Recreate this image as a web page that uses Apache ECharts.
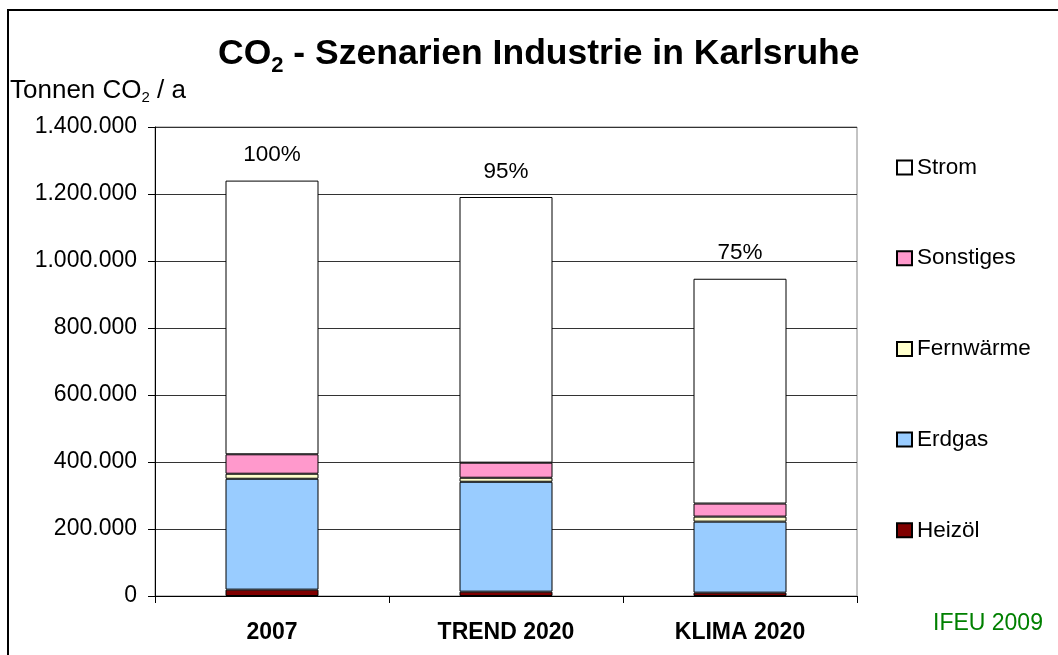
<!DOCTYPE html>
<html>
<head>
<meta charset="utf-8">
<script src="https://cdn.jsdelivr.net/npm/echarts@6/dist/echarts.min.js"></script>
<style>
  html, body { margin: 0; padding: 0; background: #fff; }
  #chart { width: 1058px; height: 655px; }
</style>
</head>
<body>
<div id="chart"></div>
<script>
// categories and stacked values (t CO2 / a), bottom to top
var categories = ['2007', 'TREND 2020', 'KLIMA 2020']
var heizoel = [19000, 13000, 10000]
var erdgas = [331000, 328000, 212000]
var fernwaerme = [15000, 12000, 15000]
var sonstiges = [58000, 45000, 39000]
var strom = [817000, 793000, 671000]
var shares = ['100%', '95%', '75%']
var legendOrder = ['Strom', 'Sonstiges', 'Fernwärme', 'Erdgas', 'Heizöl']

var FONT = 'Arial, "Liberation Sans", sans-serif'

function dots(v) {
    return String(v).replace(/\B(?=(\d{3})+(?!\d))/g, '.')
}

function bar(name, data, color) {
    return {
        name: name,
        type: 'bar',
        stack: 'co2',
        data: data,
        barWidth: 93,
        itemStyle: { color: color, borderColor: '#000', borderWidth: 1 }
    }
}

var series = [
    bar('Heizöl', heizoel, '#800000'),
    bar('Erdgas', erdgas, '#99ccff'),
    bar('Fernwärme', fernwaerme, '#ffffcc'),
    bar('Sonstiges', sonstiges, '#ff99cc'),
    bar('Strom', strom, '#ffffff')
]
series[4].label = {
    show: true,
    position: 'top',
    distance: 14,
    fontFamily: FONT,
    fontSize: 22.5,
    color: '#000',
    formatter: function (p) { return shares[p.dataIndex] }
}

var chart = echarts.init(document.getElementById('chart'))
chart.setOption({
    animation: false,
    backgroundColor: '#fff',
    title: {
        left: 213,
        top: 26,
        text: '{a|CO}{s|2}{a| - Szenarien Industrie in Karlsruhe}',
        textStyle: {
            rich: {
                a: { fontFamily: FONT, fontSize: 35.5, fontWeight: 'bold', color: '#000', lineHeight: 46 },
                s: { fontFamily: FONT, fontSize: 22, fontWeight: 'bold', color: '#000', lineHeight: 22, verticalAlign: 'bottom' }
            }
        }
    },
    legend: {
        orient: 'vertical',
        left: 891,
        top: 151,
        data: legendOrder,
        itemWidth: 15,
        itemHeight: 14,
        itemGap: 67.7,
        icon: 'rect',
        selectedMode: false,
        textStyle: { fontFamily: FONT, fontSize: 22.5, color: '#000', lineHeight: 22 }
    },
    grid: {
        left: 155,
        right: 201,
        top: 127,
        bottom: 59,
        show: true,
        borderColor: '#888',
        borderWidth: 1,
        containLabel: false
    },
    xAxis: {
        type: 'category',
        data: categories,
        axisLine: { lineStyle: { color: '#000', width: 1 } },
        axisTick: { show: true, length: 7, lineStyle: { color: '#000' } },
        axisLabel: { margin: 25, fontFamily: FONT, fontSize: 23, fontWeight: 'bold', color: '#000' }
    },
    yAxis: {
        type: 'value',
        min: 0,
        max: 1400000,
        interval: 200000,
        axisLine: { show: true, lineStyle: { color: '#000', width: 1 } },
        axisTick: { show: true, length: 7, lineStyle: { color: '#000' } },
        axisLabel: { margin: 18, fontFamily: FONT, fontSize: 23, color: '#000', formatter: dots },
        splitLine: { lineStyle: { color: '#333', width: 1 } }
    },
    graphic: [
        {
            type: 'rect',
            shape: { x: 8, y: 10, width: 1200, height: 800 },
            style: { fill: 'none', stroke: '#000', lineWidth: 2 },
            silent: true
        },
        {
            type: 'text',
            left: 10,
            top: 78,
            style: {
                text: '{a|Tonnen CO}{s|2}{a| / a}',
                rich: {
                    a: { fontFamily: FONT, fontSize: 26, color: '#000', lineHeight: 28 },
                    s: { fontFamily: FONT, fontSize: 15, color: '#000', lineHeight: 15, verticalAlign: 'bottom' }
                }
            }
        },
        {
            type: 'text',
            left: 933,
            top: 612,
            style: { text: 'IFEU 2009', fontFamily: FONT, fontSize: 23, fill: '#008000' }
        }
    ],
    series: series
})
</script>
</body>
</html>
